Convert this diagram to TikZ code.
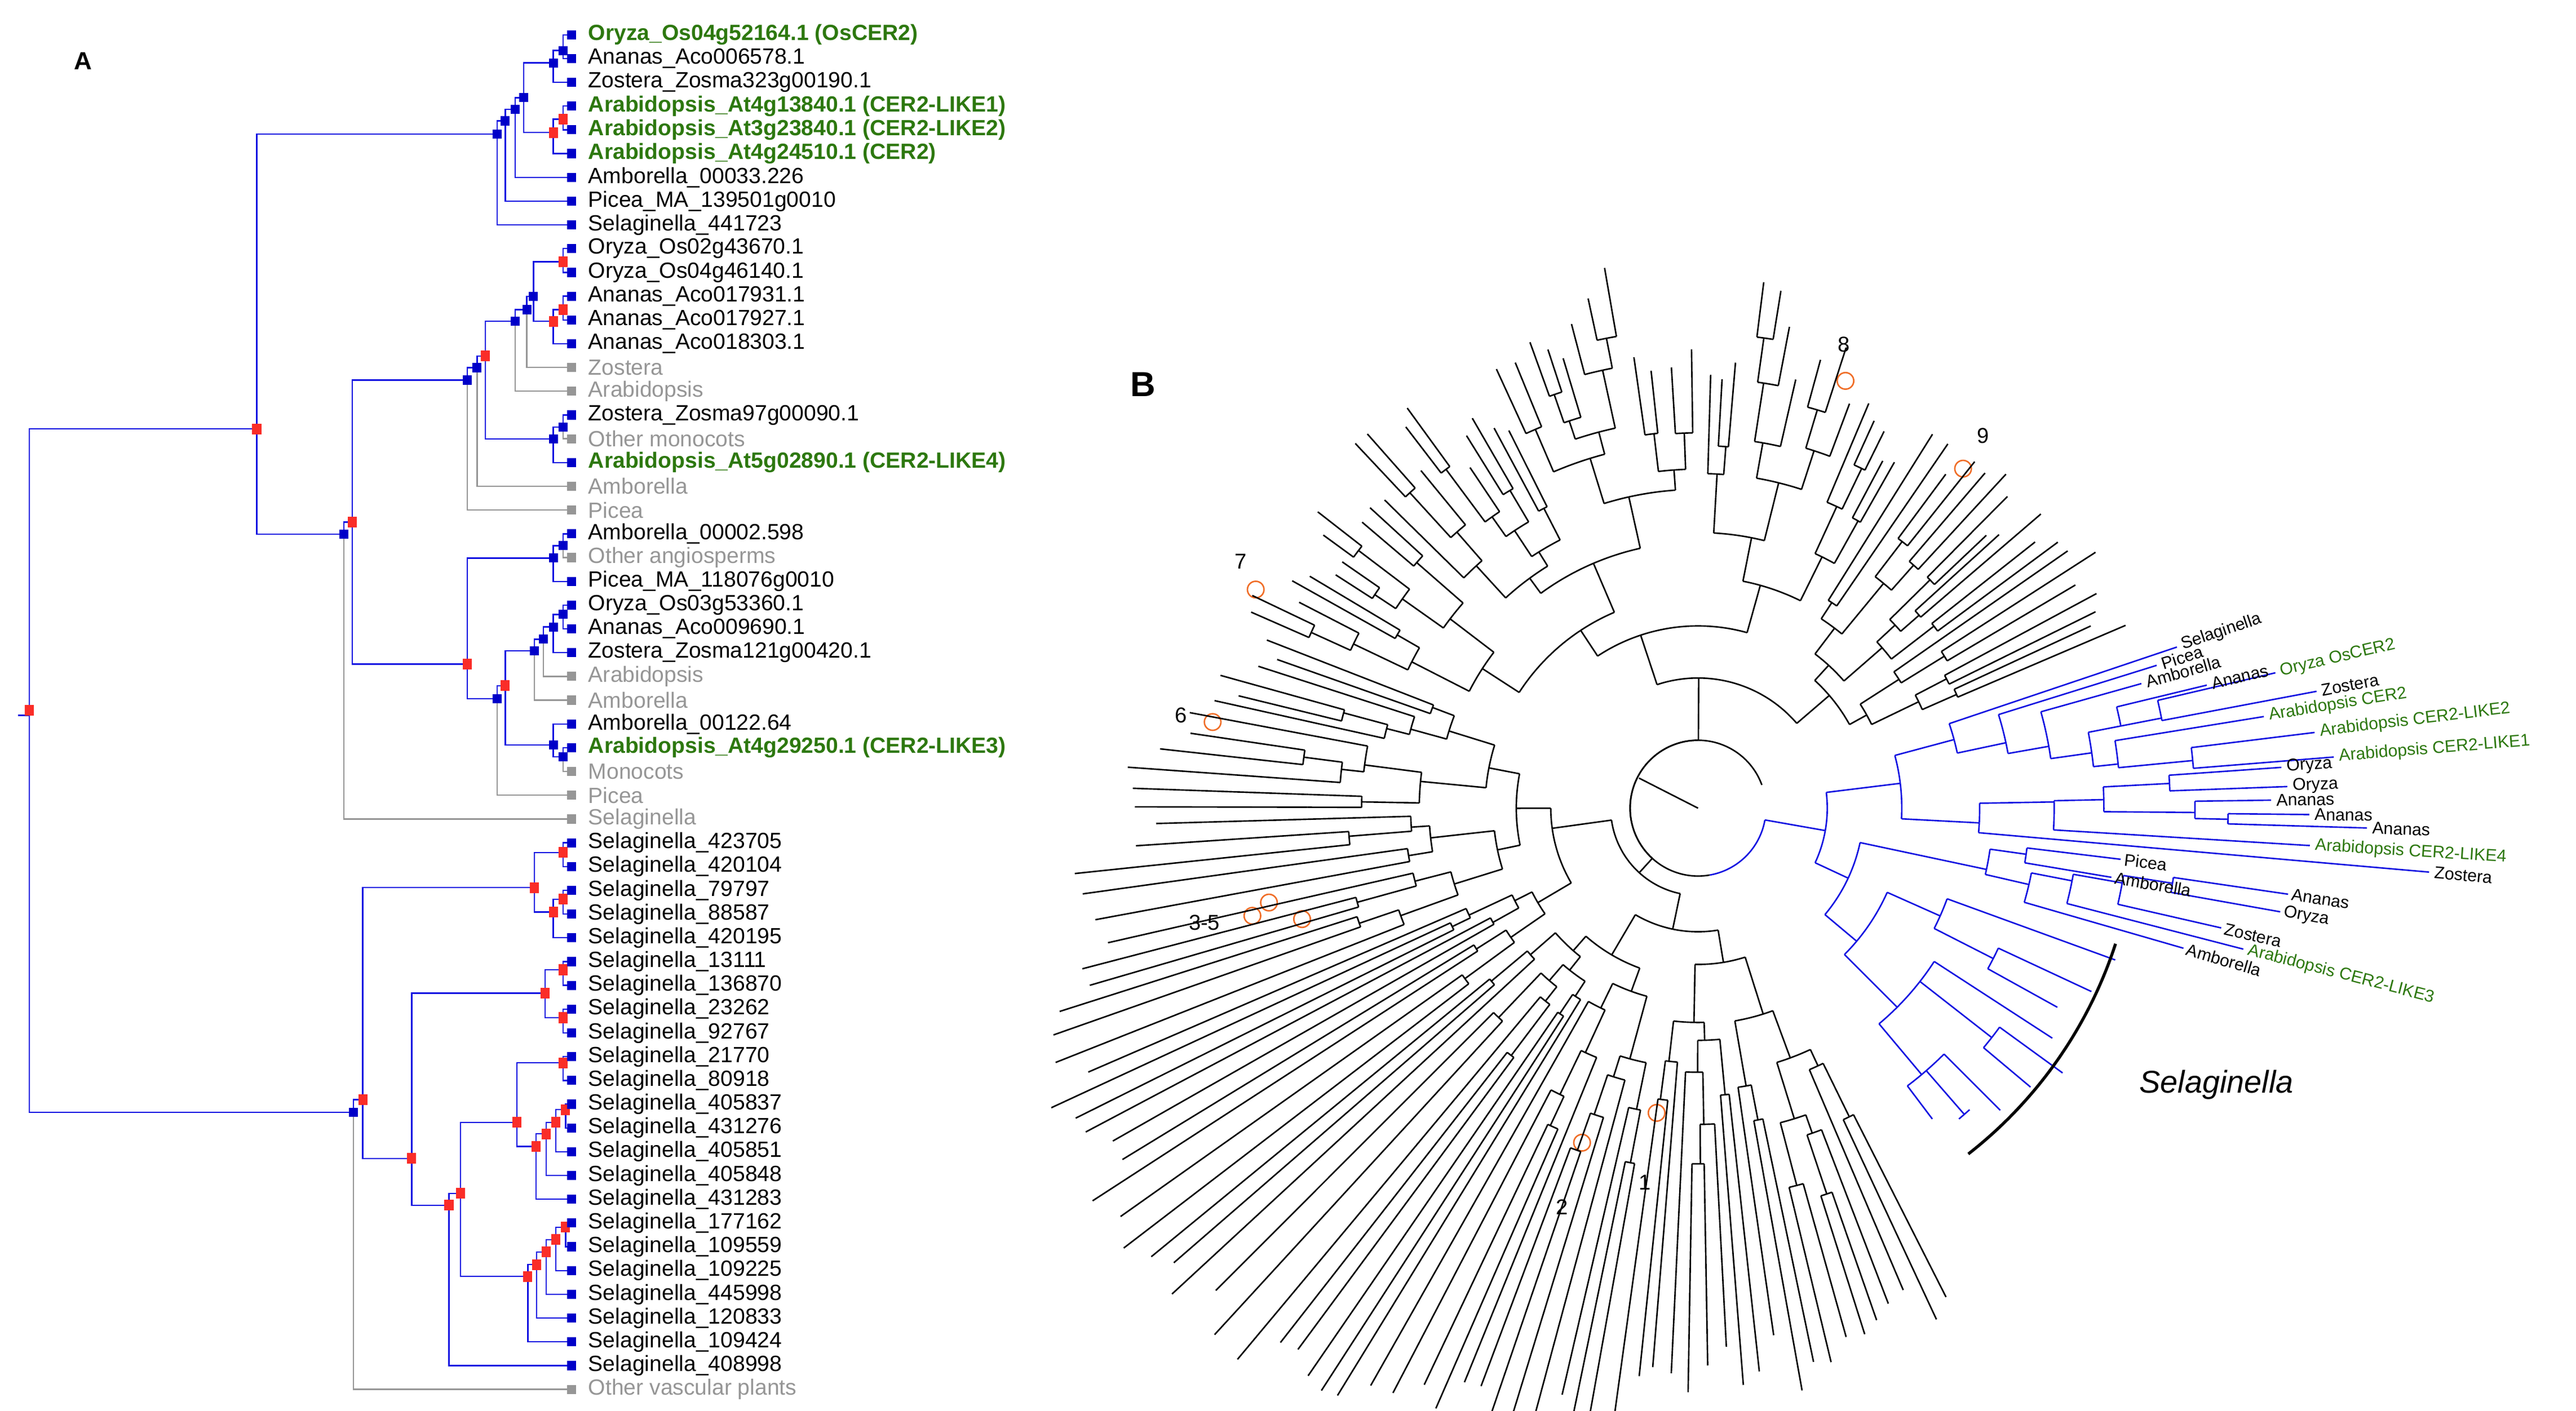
\documentclass[tikz,border=0pt]{standalone}
\usepackage{fontspec}
\setmainfont{Liberation Sans}
\definecolor{lnb}{RGB}{20,20,225}
\definecolor{sqb}{RGB}{0,0,200}
\definecolor{sqr}{RGB}{250,45,40}
\definecolor{gr}{RGB}{150,150,150}
\definecolor{grn}{RGB}{45,120,15}
\definecolor{org}{RGB}{240,110,40}
\tikzset{
 ed/.style={draw=lnb,line width=0.8pt},
 ge/.style={draw=gr,line width=0.8pt},
 bs/.style={fill=sqb,draw=none,minimum size=5.5pt,inner sep=0pt,rectangle},
 rs/.style={fill=sqr,draw=none,minimum width=5.5pt,minimum height=6.5pt,inner sep=0pt,rectangle},
 gs/.style={fill=gr,draw=none,minimum size=5.5pt,inner sep=0pt,rectangle},
 lab/.style={font=\fontsize{13.3}{14}\selectfont,inner sep=0pt,anchor=west},
 gb/.style={lab,text=grn,font=\fontsize{13.3}{14}\selectfont\bfseries},
 k/.style={lab,text=black},
 g/.style={lab,text=gr},
 bk/.style={line width=0.9pt,draw=black},
 bl/.style={line width=0.9pt,draw=lnb},
 blab/.style={font=\fontsize{10.3}{11}\selectfont,inner sep=0pt,anchor=west},
 oc/.style={draw=org,line width=0.9pt},
 num/.style={font=\fontsize{13}{14}\selectfont}
}
\newcommand\bbr[3]{\draw[bl] (#1:#2) -- (#1:#3);}
\newcommand\bac[3]{\draw[bl] (#2:#1) arc[start angle=#2,end angle=#3,radius=#1];}
\newcommand\rtree[4]{%
 \begingroup
 \pgfmathsetmacro\w{#2-#1}%
 \pgfmathsetmacro\m{(#1+#2)/2}%
 \ifdim\w pt<2.9pt
   \pgfmathsetmacro\R{max(#3+12,290-45*sin(\m)+110*(max(0,cos(\m-215)))^4+40*rnd-20)}%
   \draw[bk] (\m:#3) -- (\m:\R);
 \else
   \pgfmathsetmacro\f{0.25+0.5*rnd}%
   \pgfmathsetmacro\s{#1+\f*\w}%
   \pgfmathsetmacro\ma{(#1+\s)/2}%
   \pgfmathsetmacro\mb{(\s+#2)/2}%
   \pgfmathsetmacro\ra{#3+10+30*rnd}%
   \pgfmathsetmacro\rb{#3+10+30*rnd}%
   \pgfmathtruncatemacro\dd{#4+1}%
   \draw[bk] (\ma:#3) arc[start angle=\ma,end angle=\mb,radius=#3];
   \draw[bk] (\ma:#3) -- (\ma:\ra);
   \draw[bk] (\mb:#3) -- (\mb:\rb);
   \edef\nexta{\noexpand\rtree{#1}{\s}{\ra}{\dd}}\nexta
   \edef\nextb{\noexpand\rtree{\s}{#2}{\rb}{\dd}}\nextb
 \fi
 \endgroup}
\begin{document}
\begin{tikzpicture}[x=1pt,y=1pt]
\useasboundingbox (0,0) rectangle (1555,852);
\fill[white] (0,0) rectangle (1555,852);
% ================= PANEL A =================
\begin{scope}[shift={(0,852)},y=-1pt]
\node[font=\fontsize{15}{16}\selectfont\bfseries] (lA) at (50,37) {A};
\foreach \i in {1,...,58}{\coordinate (L\i) at (345,{21+(\i-1)*14.35});}
\foreach \n/\x/\y in {a/340/30.5,b/334/38,c/340/72,d/334/80,e/316/59,f/311/66,g/305/73,h/300/81,
 i/340/158,j/340/187,k/334/194,l/322/179,m/318/187,n/311/194,o/340/258,p/334/265,q/293/215,r/288/222,s/282/229.5,
 T/155/259,u/207.5/322.5,v/212.7/315.2,w/282/401,x1/334/337,x1a/340/329.5,x2/300/422,x3/305/414,x4/322.5/393,
 x6/328/386,x7/334/378.6,x8/340/371,x5/334/449.8,x9/340/457,
 rt/17.6/429,z/213.4/671.6,z1/219/664,S1/322.5/536,S1a/340/514.8,S1b/334/550.7,S1c/340/543,S2/248.5/699.5,
 S3/329/599.7,S3a/340/585.6,S3b/340/614.5,S4/271/727.8,S5/278/720.6,S6/312/677.7,S6a/340/641.8,S6b/323.5/692.3,
 S6c/329.6/684.7,S6d/335.5/677.7,S6e/341.4/670,S7/318.6/770.8,S7a/324/763.6,S7b/329.6/756,S7c/335.5/748.5,S7d/341.4/741}
 {\coordinate (\n) at (\x,\y);}
\coordinate (stub) at (11,432);
\draw[ed] (stub) -- (rt |- stub);
\foreach \p/\c in {m/L15,n/L16,o/L18,r/L20,s/L21,u/L34,x1a/L23,x2/L33,x4/L29,x6/L28,x9/L32,z/L58}
 {\draw[ge] (\p) |- (\c);}
\foreach \p/\c in {a/L1,a/L2,b/a,b/L3,c/L4,c/L5,d/c,d/L6,e/b,e/d,f/e,f/L7,g/f,g/L8,h/g,h/L9,
 i/L10,i/L11,j/L12,j/L13,k/j,k/L14,l/i,l/k,m/l,n/m,o/L17,p/o,p/L19,q/n,q/p,r/q,s/r,
 T/h,T/u,u/v,v/s,v/w,w/x1,w/x2,x1/x1a,x1/L24,x1a/L22,x2/x3,x3/x4,x3/x5,x4/x6,x6/x7,x7/x8,x7/L27,
 x8/L25,x8/L26,x5/L30,x5/x9,x9/L31,
 rt/T,rt/z,z/z1,z1/S1,z1/S2,S1/S1a,S1/S1b,S1a/L35,S1a/L36,S1b/S1c,S1b/L39,S1c/L37,S1c/L38,
 S2/S3,S2/S4,S3/S3a,S3/S3b,S3a/L40,S3a/L41,S3b/L42,S3b/L43,S4/S5,S4/L57,S5/S6,S5/S7,S6/S6a,S6/S6b,
 S6a/L44,S6a/L45,S6b/S6c,S6b/L50,S6c/S6d,S6c/L49,S6d/S6e,S6d/L48,S6e/L46,S6e/L47,S7/S7a,S7/L56,
 S7a/S7b,S7a/L55,S7b/S7c,S7b/L54,S7c/S7d,S7c/L53,S7d/L51,S7d/L52}
 {\draw[ed] (\p) |- (\c);}
\foreach \n in {a,b,e,f,g,h,l,m,n,o,p,r,s,u,x1,x1a,x2,x4,x6,x7,x8,x5,x9,z}{\node[bs] at (\n) {};}
\foreach \n in {c,d,i,j,k,q,T,v,w,x3,rt,z1,S1,S1a,S1b,S1c,S2,S3,S3a,S3b,S4,S5,S6,S6a,S6b,S6c,S6d,S6e,S7,S7a,S7b,S7c,S7d}{\node[rs] at (\n) {};}
\foreach \i in {1,...,58}{\node[bs] at (L\i) {};}
\foreach \i in {15,16,18,20,21,23,28,29,32,33,34,58}{\node[gs] at (L\i) {};}
\foreach \i/\t/\s in {1/Oryza\_Os04g52164.1 (OsCER2)/gb,2/Ananas\_Aco006578.1/k,3/Zostera\_Zosma323g00190.1/k,
 4/Arabidopsis\_At4g13840.1 (CER2-LIKE1)/gb,5/Arabidopsis\_At3g23840.1 (CER2-LIKE2)/gb,6/Arabidopsis\_At4g24510.1 (CER2)/gb,
 7/Amborella\_00033.226/k,8/Picea\_MA\_139501g0010/k,9/Selaginella\_441723/k,10/Oryza\_Os02g43670.1/k,11/Oryza\_Os04g46140.1/k,
 12/Ananas\_Aco017931.1/k,13/Ananas\_Aco017927.1/k,14/Ananas\_Aco018303.1/k,15/Zostera/g,16/Arabidopsis/g,
 17/Zostera\_Zosma97g00090.1/k,18/Other monocots/g,19/Arabidopsis\_At5g02890.1 (CER2-LIKE4)/gb,20/Amborella/g,21/Picea/g,
 22/Amborella\_00002.598/k,23/Other angiosperms/g,24/Picea\_MA\_118076g0010/k,25/Oryza\_Os03g53360.1/k,26/Ananas\_Aco009690.1/k,
 27/Zostera\_Zosma121g00420.1/k,28/Arabidopsis/g,29/Amborella/g,30/Amborella\_00122.64/k,31/Arabidopsis\_At4g29250.1 (CER2-LIKE3)/gb,
 32/Monocots/g,33/Picea/g,34/Selaginella/g,35/Selaginella\_423705/k,36/Selaginella\_420104/k,37/Selaginella\_79797/k,
 38/Selaginella\_88587/k,39/Selaginella\_420195/k,40/Selaginella\_13111/k,41/Selaginella\_136870/k,42/Selaginella\_23262/k,
 43/Selaginella\_92767/k,44/Selaginella\_21770/k,45/Selaginella\_80918/k,46/Selaginella\_405837/k,47/Selaginella\_431276/k,
 48/Selaginella\_405851/k,49/Selaginella\_405848/k,50/Selaginella\_431283/k,51/Selaginella\_177162/k,52/Selaginella\_109559/k,
 53/Selaginella\_109225/k,54/Selaginella\_445998/k,55/Selaginella\_120833/k,56/Selaginella\_109424/k,57/Selaginella\_408998/k,
 58/Other vascular plants/g}
 {\node[\s] (t\i) at ([xshift=10pt]L\i) {\t};}
\node[font=\fontsize{21}{22}\selectfont\bfseries] (lB) at (690,232) {B};
\foreach \x/\y in {1114/230,1185/283,758/356,732/436,766/545,756/553,786/555,955/690,1000/672}
 {\draw[oc] (\x,\y) circle[radius=5];}
\node[num] (n8) at (1113,208) {8};
\node[num] (n9) at (1197,263) {9};
\node[num] (n7) at (749,339) {7};
\node[num] (n6) at (713,432) {6};
\node[num] (n35) at (727,557) {3-5};
\node[num] (n2) at (943,729) {2};
\node[num] (n1) at (993,714) {1};
\node[font=\fontsize{19}{20}\selectfont\itshape] (sel) at (1338,655) {Selaginella};
\end{scope}
% ================= PANEL B =================
\begin{scope}[shift={(1025,364)}]
\pgfmathsetseed{5}
\coordinate (C) at (0,0);
\draw[bk] (C) -- (153:40);
\draw[bk] (20:41) arc[start angle=20,end angle=280,radius=41];
\rtree{22}{298}{41}{0}
\draw[bl] (-80:41) arc[start angle=-80,end angle=-10,radius=41];
\bbr{-10}{41}{78}
\bac{78}{-25}{7}
\bbr{7}{78}{123}
\bac{123}{-3}{15}
\bbr{15}{123}{160}\bac{160}{12}{18.6}
\bbr{18.6}{160}{305}
\bbr{12}{160}{190}\bac{190}{10}{17.3}\bbr{17.3}{190}{290}
\bbr{10}{190}{215}\bac{215}{8}{15.7}\bbr{15.7}{215}{278}
\bbr{8}{215}{240}\bac{240}{6}{11}
\bbr{11}{240}{260}\bac{260}{11}{13.6}\bbr{13.6}{260}{316}
\bbr{11}{260}{285}\bac{285}{10.7}{13.2}\bbr{13.2}{285}{358}\bbr{10.7}{285}{380}
\bbr{6}{240}{255}\bac{255}{5.5}{9.2}\bbr{9.2}{255}{346}
\bbr{5.5}{255}{300}\bac{300}{4.6}{7}\bbr{7}{300}{375}\bbr{4.6}{300}{385}
\bbr{-3}{123}{170}\bac{170}{-5}{1}
\bbr{1}{170}{215}\bac{215}{-3.5}{1.2}
\bbr{1.2}{215}{245}\bac{245}{-0.5}{3}
\bbr{3}{245}{285}\bac{285}{2.1}{4}\bbr{4}{285}{353}\bbr{2.1}{285}{356}
\bbr{-0.5}{245}{300}\bac{300}{-1.2}{0.8}\bbr{0.8}{300}{346}
\bbr{-1.2}{300}{320}\bac{320}{-1.7}{-0.6}\bbr{-0.6}{320}{369}\bbr{-1.7}{320}{404}
\bbr{-3.5}{215}{370}
\bbr{-5}{170}{443}
\bbr{-25}{78}{100}\bac{100}{-40}{-12}
\bbr{-12}{100}{178}\bac{178}{-13}{-8}
\bbr{-8}{178}{200}\bac{200}{-9.5}{-6.9}\bbr{-6.9}{200}{257}\bbr{-9.5}{200}{253}
\bbr{-13}{178}{205}\bac{205}{-16.1}{-11}\bbr{-16.1}{205}{305}
\bbr{-11}{205}{230}\bac{230}{-14.5}{-10}\bbr{-14.5}{230}{340}
\bbr{-10}{230}{260}\bac{260}{-12.9}{-9}\bbr{-12.9}{260}{324}
\bbr{-9}{260}{290}\bac{290}{-10.1}{-8.3}\bbr{-8.3}{290}{360}\bbr{-10.1}{290}{357}
\bbr{-40}{100}{125}\bac{125}{-45}{-24}
\bbr{-24}{125}{160}\bac{160}{-27}{-20}\bbr{-20}{160}{268}
\bbr{-27}{160}{200}\bac{200}{-29}{-25}\bbr{-25}{200}{262}\bbr{-29}{200}{248}
\bbr{-45}{125}{170}\bac{170}{-50}{-33}
\bbr{-33}{170}{255}
\bbr{-38}{170}{225}\bac{225}{-40}{-36}\bbr{-36}{225}{272}\bbr{-40}{225}{262}
\bbr{-50}{170}{210}\bac{210}{-53}{-45}\bbr{-45}{210}{258}\bbr{-53}{210}{235}
\bbr{-49}{210}{245}\bac{245}{-50}{-48}
\foreach \a/\r/\t/\c in {18.6/308/Selaginella/black,17.3/293/Picea/black,15.7/281/Amborella/black,13.6/319/Ananas/black,
 13.2/361/Oryza OsCER2/grn,10.7/383/Zostera/black,9.2/349/Arabidopsis CER2/grn,7/378/Arabidopsis CER2-LIKE2/grn,
 4.6/388/Arabidopsis CER2-LIKE1/grn,4.0/356/Oryza/black,2.1/359/Oryza/black,0.8/349/Ananas/black,-0.6/372/Ananas/black,
 -1.7/407/Ananas/black,-3.5/373/Arabidopsis CER2-LIKE4/grn,-5/446/Zostera/black,-6.9/259/Picea/black,
 -9.5/255/Amborella/black,-8.3/362/Ananas/black,-10.1/359/Oryza/black,-12.9/326/Zostera/black,-16.1/307/Amborella/black,
 -14.5/343/Arabidopsis CER2-LIKE3/grn}
 {\node[blab,rotate=\a,text=\c] at (\a:\r) {\t};}
\draw[line width=1.8pt] (-18:265) arc[start angle=-18,end angle=-52,radius=265];
\end{scope}
\end{tikzpicture}
\end{document}
